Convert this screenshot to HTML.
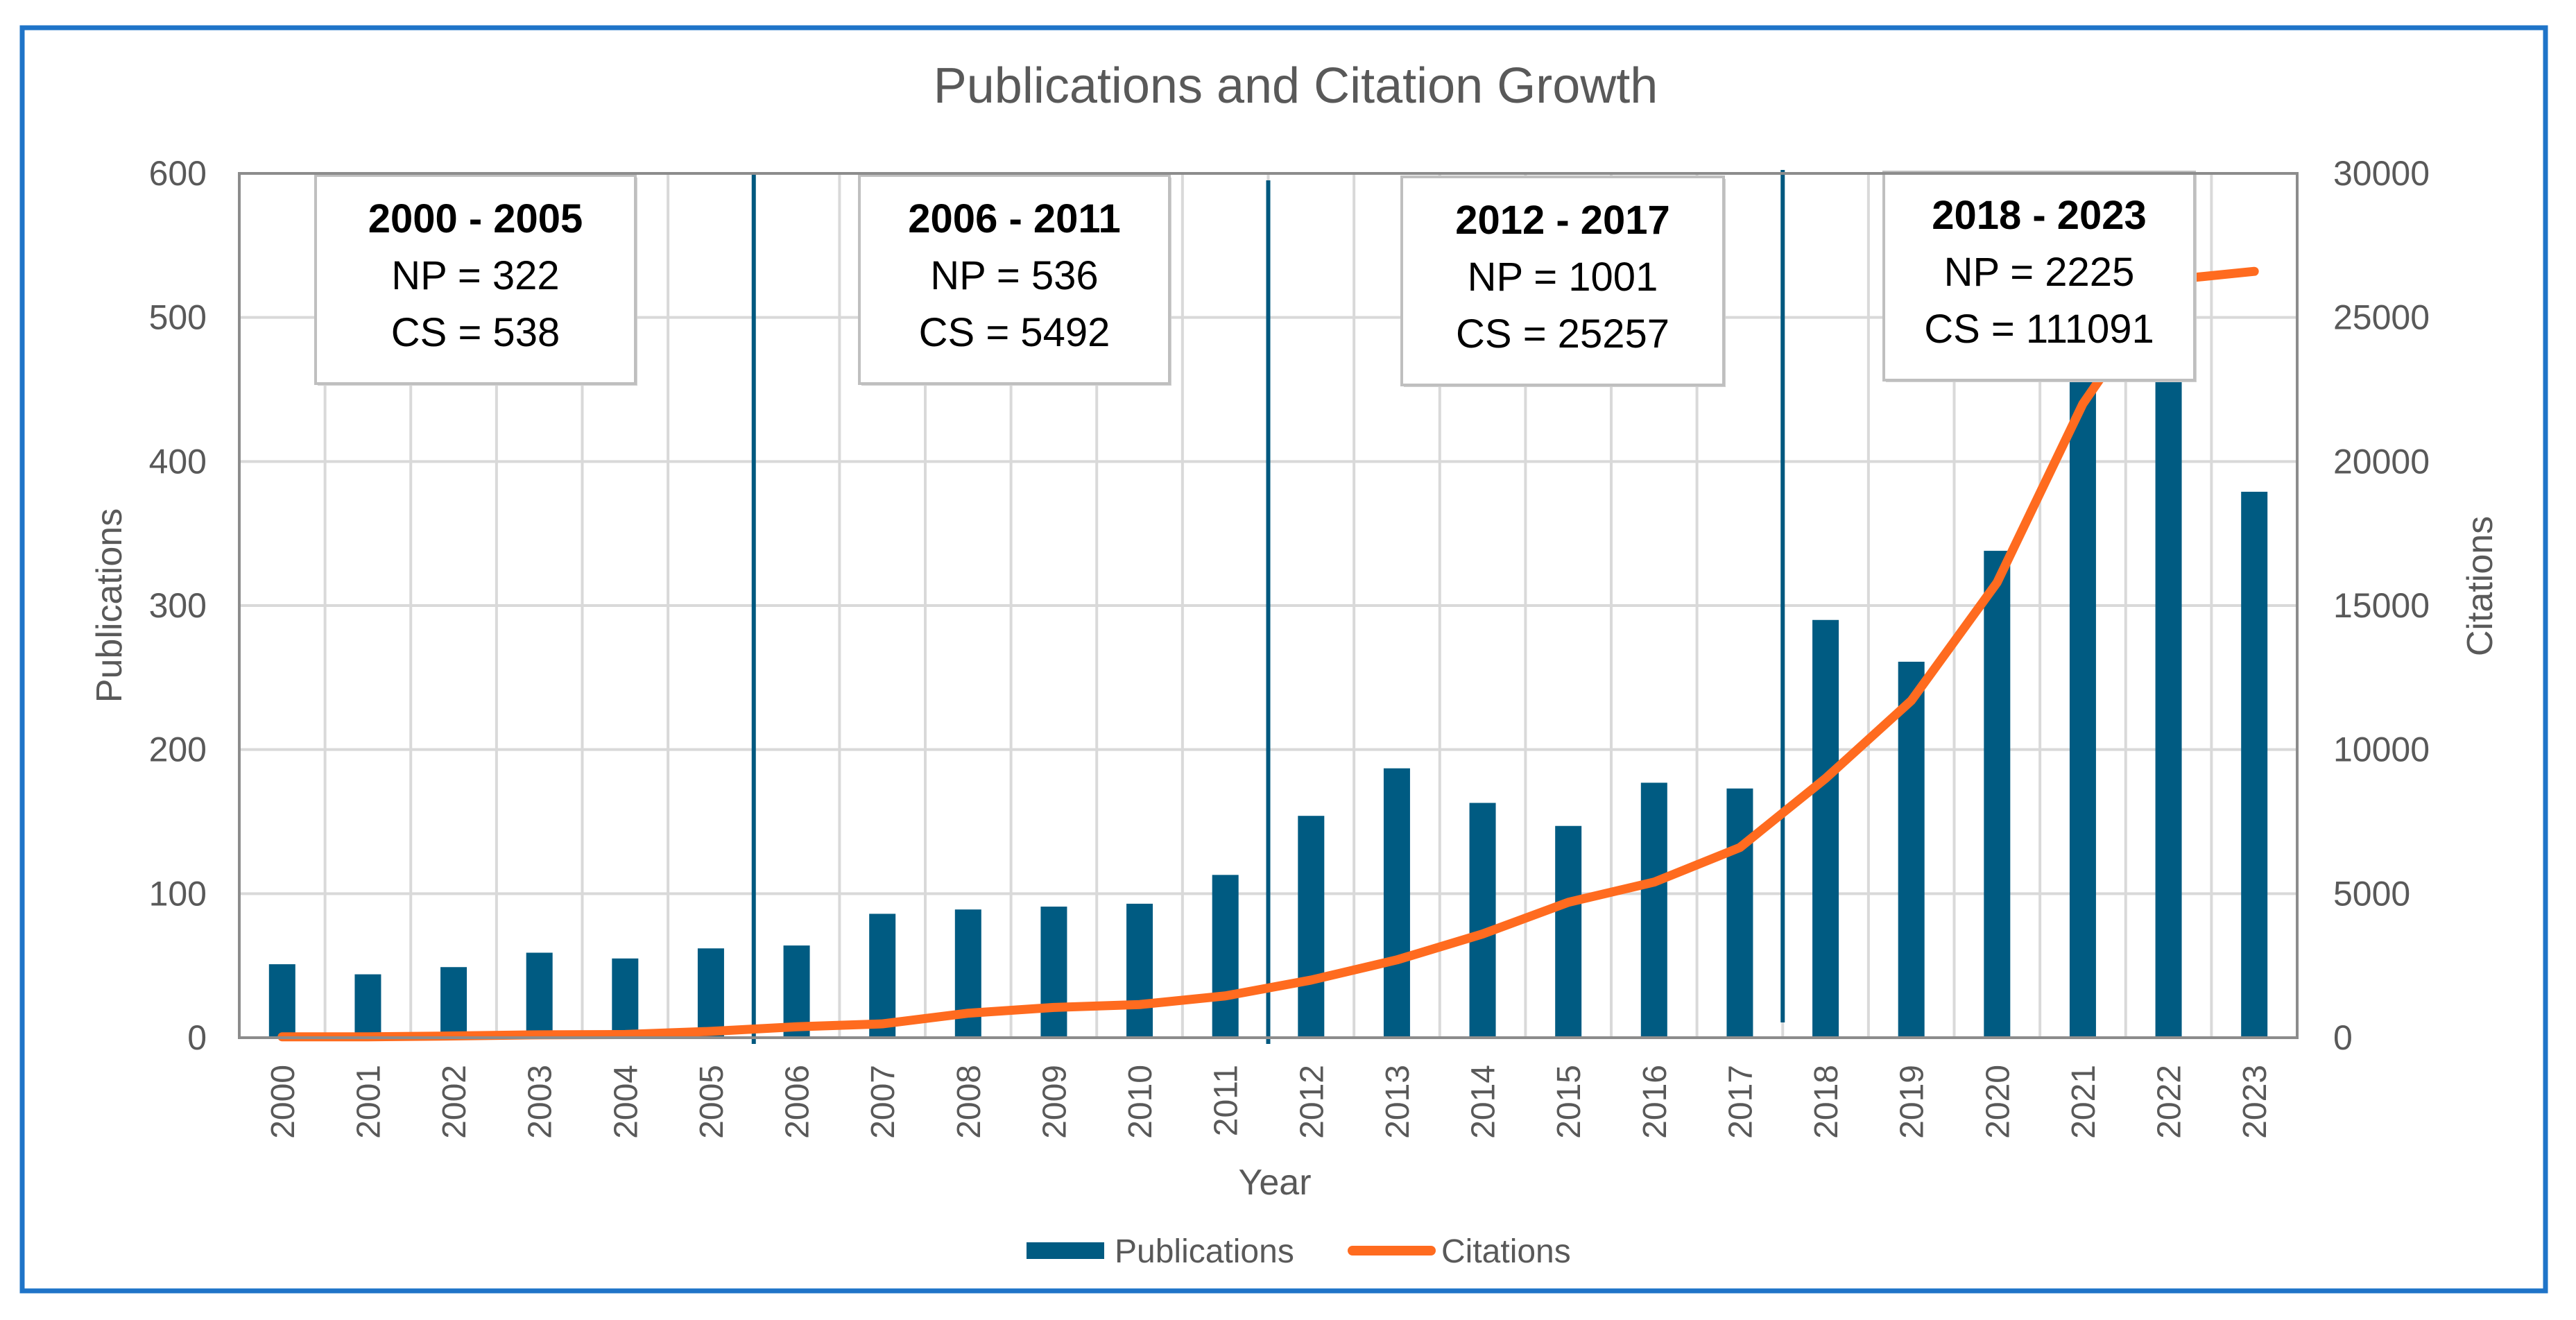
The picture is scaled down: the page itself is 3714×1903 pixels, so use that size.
<!DOCTYPE html>
<html><head><meta charset="utf-8">
<style>
html,body{margin:0;padding:0;background:#fff;}
svg{display:block;}
text{font-family:"Liberation Sans Narrow","Liberation Sans",sans-serif;}
</style></head>
<body>
<svg id="chart" width="3714" height="1903" viewBox="0 0 3714 1903" xmlns="http://www.w3.org/2000/svg">
<rect x="0" y="0" width="3714" height="1903" fill="#fff"/>
<rect x="32" y="40" width="3638" height="1821" fill="none" stroke="#1f74c8" stroke-width="7"/>
<text x="1868" y="148" text-anchor="middle" font-size="72" fill="#595959">Publications and Citation Growth</text>
<g id="grid"></g>
<g id="bars"></g>
<g id="dividers"></g>
<g id="line"></g>
<g id="boxes"></g>
<g id="axes"></g>
<text transform="translate(175,873) rotate(-90)" text-anchor="middle" font-size="52" fill="#595959" style="font-family:'Liberation Sans',sans-serif">Publications</text>
<text transform="translate(3593,845) rotate(-90)" text-anchor="middle" font-size="52" fill="#595959" style="font-family:'Liberation Sans',sans-serif">Citations</text>
<text x="1838" y="1722" text-anchor="middle" font-size="52" fill="#595959">Year</text>
<g>
<rect x="1480" y="1791" width="112" height="24" fill="#005b82"/>
<text x="1607" y="1820" font-size="48" fill="#595959">Publications</text>
<line x1="1950" y1="1803" x2="2063" y2="1803" stroke="#ff6b1f" stroke-width="14" stroke-linecap="round"/>
<text x="2078" y="1820" font-size="48" fill="#595959">Citations</text>
</g>
</svg>
<script>
const years = ["2000","2001","2002","2003","2004","2005","2006","2007","2008","2009","2010","2011","2012","2013","2014","2015","2016","2017","2018","2019","2020","2021","2022","2023"];
const publications = [51,44,49,59,55,62,64,86,89,91,93,113,154,187,163,147,177,173,290,261,338,470,488,379];
const citations = [30,30,60,100,110,220,380,480,850,1050,1150,1450,2000,2700,3600,4700,5400,6600,9000,11700,15800,22000,26300,26600];
const leftTicks = [0,100,200,300,400,500,600];
const rightTicks = [0,5000,10000,15000,20000,25000,30000];
const periods = ["2000 - 2005","2006 - 2011","2012 - 2017","2018 - 2023"];
const periodNP = ["322","536","1001","2225"];
const periodCS = ["538","5492","25257","111091"];

const NS="http://www.w3.org/2000/svg";
const L=345,R=3312,T=250,B=1496;
const n=years.length, cw=(R-L)/n;
const xc=i=>L+(i+0.5)*cw;
const yL=v=>B-(v/600)*(B-T);
const yR=v=>B-(v/30000)*(B-T);
function mk(tag,attrs,parent){const e=document.createElementNS(NS,tag);for(const k in attrs)e.setAttribute(k,attrs[k]);parent.appendChild(e);return e;}
const grid=document.getElementById('grid');
leftTicks.forEach(t=>{const g=mk('line',{x1:L,x2:R,y1:yL(t),y2:yL(t),stroke:'#d9d9d9','stroke-width':4},grid);

});
for(let i=1;i<n;i++){const g=mk('line',{x1:L+i*cw,x2:L+i*cw,y1:T,y2:B,stroke:'#d9d9d9','stroke-width':4},grid);

}
const bars=document.getElementById('bars');
publications.forEach((v,i)=>{const b=mk('rect',{x:xc(i)-19,y:yL(v),width:38,height:B-yL(v),fill:'#005b82'},bars);

});
const dv=document.getElementById('dividers');
const divSpans=[[250,1505],[260,1505],[245,1474]];
[6,12,18].forEach((k,j)=>{const d=mk('line',{x1:L+k*cw,x2:L+k*cw,y1:divSpans[j][0],y2:divSpans[j][1],stroke:'#00587f','stroke-width':6},dv);

});
const ln=document.getElementById('line');
const p=mk('polyline',{points:citations.map((v,i)=>xc(i)+','+yR(v)).join(' '),fill:'none',stroke:'#ff6b1f','stroke-width':13,'stroke-linejoin':'round','stroke-linecap':'round'},ln);


const ax=document.getElementById('axes');
const frame=mk('rect',{x:L,y:T,width:R-L,height:B-T,fill:'none',stroke:'#8c8c8c','stroke-width':4},ax);


leftTicks.forEach(t=>{const e=mk('text',{x:298,y:yL(t)+17,'text-anchor':'end','font-size':50,fill:'#595959'},ax);e.textContent=t;

});
rightTicks.forEach(t=>{const e=mk('text',{x:3364,y:yR(t)+17,'text-anchor':'start','font-size':50,fill:'#595959'},ax);e.textContent=t;

});
years.forEach((y,i)=>{const e=mk('text',{transform:'translate('+(xc(i)+17)+',1535) rotate(-90)','text-anchor':'end','font-size':48,fill:'#595959',style:"font-family:'Liberation Sans',sans-serif"},ax);e.textContent=y;

});
const bx=document.getElementById('boxes');
const boxPos=[[455,253,461],[1239,253,447],[2021,255,464],[2716,248,448]];
periods.forEach((pr,j)=>{const [x,y,w]=boxPos[j];
const g=mk('g',{},bx);


mk('rect',{x:x+3,y:y+3,width:w,height:300,fill:'#d0d0d0'},g);
mk('rect',{x:x,y:y,width:w,height:300,fill:'#fff',stroke:'#bfbfbf','stroke-width':4},g);
const cx=x+w/2;
const t1=mk('text',{x:cx,y:y+82,'text-anchor':'middle','font-size':58,'font-weight':'bold',fill:'#000',style:"font-family:'Liberation Sans',sans-serif"},g);t1.textContent=pr;
const t2=mk('text',{x:cx,y:y+164,'text-anchor':'middle','font-size':58,fill:'#000',style:"font-family:'Liberation Sans',sans-serif"},g);t2.textContent='NP = '+periodNP[j];
const t3=mk('text',{x:cx,y:y+246,'text-anchor':'middle','font-size':58,fill:'#000',style:"font-family:'Liberation Sans',sans-serif"},g);t3.textContent='CS = '+periodCS[j];
});
</script>
</body></html>
